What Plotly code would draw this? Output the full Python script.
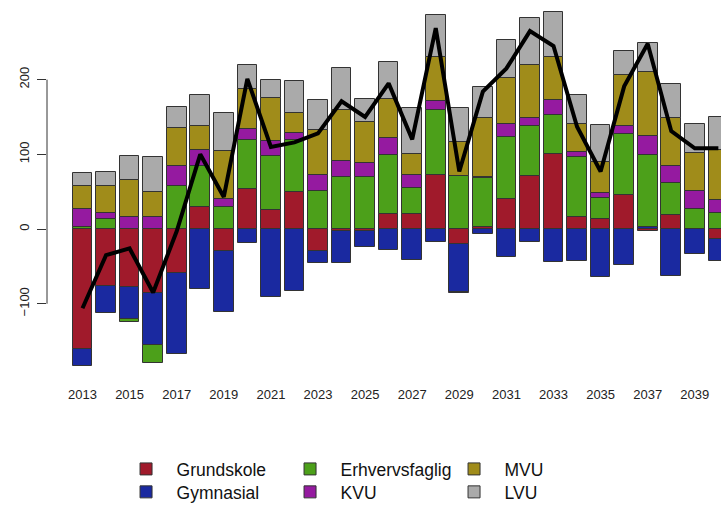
import plotly.graph_objects as go

years = list(range(2013, 2041))
grundskole = [-160, -76, -78, -86, -59, 30, -30, 54, 25, 50, -30, -3, -2, 20, 20, 72, -20, 3, 40, 71, 101, 16, 14, 45, -3, 19, 0, -14]
gymnasial = [-23, -36, -43, -69, -108, -80, -81, -19, -91, -83, -15, -42, -22, -28, -41, -17, -64, -6, -38, -18, -44, -43, -64, -48, 3, -63, -33, -29]
erhvervsfaglig = [3, 13, -3, -24, 57, 55, 30, 65, 73, 69, 51, 70, 69, 79, 35, 87, 71, 65, 83, 67, 52, 80, 28, 82, 96, 43, 27, 21]
kvu = [24, 9, 16, 16, 27, 21, 10, 15, 20, 9, 22, 21, 19, 23, 18, 12, -2, 1, 18, 10, 20, 7, 6, 11, 25, 23, 24, 18]
mvu = [30, 36, 50, 34, 51, 32, 65, 54, 57, 28, 59, 69, 55, 52, 28, 59, 46, 80, 61, 71, 57, 37, 42, 68, 86, 64, 51, 67]
lvu = [18, 19, 32, 46, 28, 41, 50, 31, 25, 42, 41, 55, 31, 49, 61, 56, 45, 41, 51, 63, 60, 39, 49, 33, 39, 45, 38, 44]
net = [-106, -35, -26, -85, -3, 100, 43, 201, 110, 116, 128, 171, 150, 195, 120, 269, 77, 184, 215, 265, 245, 137, 77, 191, 248, 131, 108, 108]

tick_years = list(range(2013, 2040, 2))
tick_labels = [str(y) for y in tick_years]
y_ticks = [-100, 0, 100, 200]

series = [
    ("Grundskole", grundskole, "#A01A2B", "legend"),
    ("Gymnasial", gymnasial, "#1A29A0", "legend2"),
    ("Erhvervsfaglig", erhvervsfaglig, "#4CA01A", "legend"),
    ("KVU", kvu, "#951AA0", "legend2"),
    ("MVU", mvu, "#A08C1A", "legend"),
    ("LVU", lvu, "#AAAAAA", "legend2"),
]

FONT = "Liberation Sans, Arial, sans-serif"

fig = go.Figure()
for name, vals, color, leg in series:
    fig.add_trace(go.Bar(
        x=years, y=vals, name=name, width=0.833,
        marker=dict(color=color, line=dict(color="#333333", width=1)),
        legend=leg,
    ))

fig.add_trace(go.Scatter(
    x=years, y=net, mode="lines", line=dict(color="black", width=4),
    showlegend=False,
))

fig.add_shape(type="line", xref="paper", yref="y", x0=0, x1=0, y0=-100, y1=200,
              line=dict(color="#333333", width=1))

legend_common = dict(
    orientation="h", xanchor="left", yanchor="middle",
    entrywidth=98, entrywidthmode="pixels", itemwidth=51,
    font=dict(family=FONT, size=17.5, color="#111111"),
    bgcolor="rgba(0,0,0,0)", traceorder="normal",
)

fig.update_layout(
    width=721, height=505,
    margin=dict(l=47, r=0, t=0, b=125, pad=0, autoexpand=False),
    paper_bgcolor="white", plot_bgcolor="white",
    barmode="relative", bargap=0,
    font=dict(family=FONT, size=13, color="#222222"),
    xaxis=dict(
        range=[2011.493, 2040.112], tickvals=tick_years, ticktext=tick_labels,
        showgrid=False, zeroline=False, showline=False, automargin=False,
        ticks="outside", ticklen=2, tickcolor="rgba(0,0,0,0)",
        tickfont=dict(family=FONT, size=13, color="#222222"),
    ),
    yaxis=dict(
        range=[-202.1, 306.6], tickvals=y_ticks,
        showgrid=False, zeroline=False, showline=False, automargin=False,
        ticks="outside", ticklen=9, tickcolor="#333333", tickwidth=1,
        tickangle=-90, ticklabelstandoff=3,
        tickfont=dict(family=FONT, size=13, color="#222222"),
    ),
    legend=dict(x=0.1017, y=-0.2343, **legend_common),
    legend2=dict(x=0.1017, y=-0.2947, **legend_common),
)

fig.write_html(
    "out.html",
    config={"displayModeBar": False},
    post_script="document.body.style.margin='0';document.body.style.padding='0';",
)
